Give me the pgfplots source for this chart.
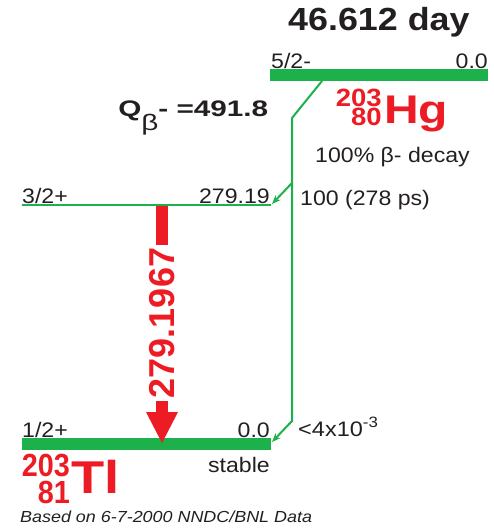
\documentclass[border=0pt]{standalone}
\usepackage{pgfplots}
\pgfplotsset{compat=1.18}
\usepackage{fontspec}
\setmainfont{Liberation Sans}
\usetikzlibrary{arrows.meta}
\definecolor{lgreen}{RGB}{29,177,76}
\definecolor{lred}{RGB}{237,28,36}
\definecolor{ink}{RGB}{35,31,32}
\newcommand{\fs}[1]{\fontsize{#1}{#1}\selectfont}
\begin{document}
\begin{tikzpicture}
\begin{axis}[scale only axis, width=493pt, height=530pt,
  xmin=0, xmax=493, ymin=0, ymax=530, y dir=reverse,
  hide axis, clip=false]
% levels
\addplot[lgreen, line width=12pt, line cap=butt] coordinates {(270,75) (488,75)};
\addplot[lgreen, line width=2.6pt, line cap=butt] coordinates {(22,205) (271,205)};
\addplot[lgreen, line width=12pt, line cap=butt] coordinates {(22,444) (271,444)};
% beta feeding lines
\addplot[lgreen, line width=2pt] coordinates {(322,81) (292,118) (292,422)};
\addplot[lgreen, line width=2pt, -{Stealth[length=9pt,width=7pt]}] coordinates {(292,421) (272,442)};
\addplot[lgreen, line width=2pt, -{Stealth[length=9pt,width=7pt]}] coordinates {(292,183) (272,204)};
% gamma arrow
\addplot[lred, line width=12pt, line cap=butt] coordinates {(162,206) (162,413)};
\addplot[fill=lred, draw=none] coordinates {(146,412) (178,412) (162,443) (146,412)};
\node[rotate=90, fill=white, inner xsep=3pt, inner ysep=1pt, text=lred, font=\fs{36}\bfseries] at (axis cs:162.5,323) {279.1967};
% texts
\node[anchor=base west, inner sep=0pt, text=ink, xscale=1.12, font=\fs{32}\bfseries] at (axis cs:288,30) {46.612 day};
\node[anchor=base west, inner sep=0pt, text=ink, xscale=1.1, font=\fs{21}] at (axis cs:271,68) {5/2-};
\node[anchor=base east, inner sep=0pt, text=ink, xscale=1.1, font=\fs{21}] at (axis cs:488,68) {0.0};
\node[anchor=base east, inner sep=0pt, text=lred, xscale=1.1, font=\fs{25}\bfseries] at (axis cs:382,106) {203};
\node[anchor=base east, inner sep=0pt, text=lred, xscale=1.1, font=\fs{25}\bfseries] at (axis cs:382,125) {80};
\node[anchor=base west, inner sep=0pt, text=lred, xscale=1.2, font=\fs{40}\bfseries] at (axis cs:384,123) {Hg};
\node[anchor=base west, inner sep=0pt, text=ink, xscale=1.1, font=\fs{21}] at (axis cs:315,162) {100\% β- decay};
\node[anchor=base west, inner sep=0pt, text=ink, xscale=1.32, font=\fs{22.5}\bfseries] at (axis cs:118,116) {Q\raisebox{-14pt}{\mdseries β}- =491.8};
\node[anchor=base west, inner sep=0pt, text=ink, xscale=1.1, font=\fs{21}] at (axis cs:22,203) {3/2+};
\node[anchor=base east, inner sep=0pt, text=ink, xscale=1.1, font=\fs{21}] at (axis cs:270,203) {279.19};
\node[anchor=base west, inner sep=0pt, text=ink, xscale=1.1, font=\fs{21}] at (axis cs:300,205) {100 (278 ps)};
\node[anchor=base west, inner sep=0pt, text=ink, xscale=1.1, font=\fs{21}] at (axis cs:22,437) {1/2+};
\node[anchor=base east, inner sep=0pt, text=ink, xscale=1.1, font=\fs{21}] at (axis cs:270,437) {0.0};
\node[anchor=base west, inner sep=0pt, text=ink, xscale=1.12, font=\fs{21}] at (axis cs:298,436) {<4x10\raisebox{9pt}{\fs{15}-3}};
\node[anchor=base east, inner sep=0pt, text=ink, xscale=1.1, font=\fs{21}] at (axis cs:270,472) {stable};
\node[anchor=base east, inner sep=0pt, text=lred, xscale=0.9, font=\fs{32}\bfseries] at (axis cs:70,476) {203};
\node[anchor=base east, inner sep=0pt, text=lred, xscale=0.9, font=\fs{32}\bfseries] at (axis cs:70,503) {81};
\node[anchor=base west, inner sep=0pt, text=lred, xscale=1.18, font=\fs{46}\bfseries] at (axis cs:71,493) {Tl};
\node[anchor=base west, inner sep=0pt, text=ink, xscale=1.12, font=\fs{16}\itshape] at (axis cs:20,522) {Based on 6-7-2000 NNDC/BNL Data};
\end{axis}
\pgfresetboundingbox
\useasboundingbox (current axis.south west) rectangle (current axis.north east);
\end{tikzpicture}
\end{document}
